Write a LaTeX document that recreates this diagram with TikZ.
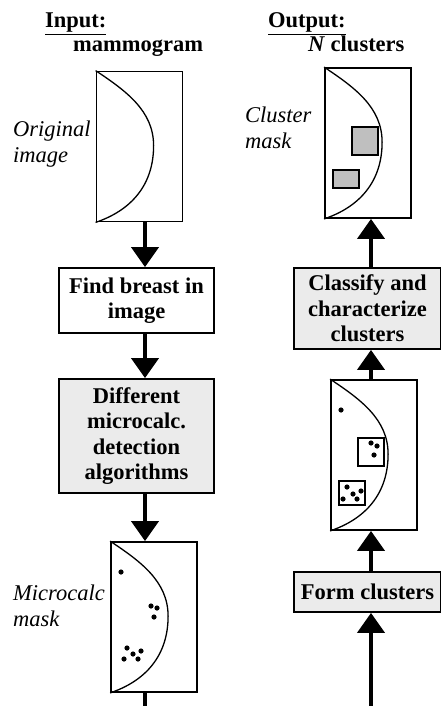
\documentclass[tikz,border=0pt]{standalone}
\usepackage{fontspec}
\setmainfont{Liberation Serif}
\usetikzlibrary{arrows.meta,calc}

\newcommand{\bigtype}{\fontsize{22.5}{25.5}\selectfont}

\tikzset{
  procbox/.style={draw, line width=1.8pt, align=center, font=\bigtype\bfseries,
    inner sep=0pt, minimum height=#1},
  shadebox/.style={procbox=#1, fill=black!8},
  maskimg/.style={draw, line width=1.8pt, inner sep=0pt,
    minimum width=86pt, minimum height=150pt},
  flow/.style={line width=4pt, -{Triangle[width=27pt,length=20pt]}},
  outline/.style={line width=1.3pt},
  cluster/.style={draw, line width=1.8pt, fill=black!25},
  capt/.style={align=left, font=\bigtype\itshape, inner sep=0pt, anchor=north west},
  heading/.style={anchor=base west, inner sep=0pt, font=\bigtype\bfseries},
}

% the outline of the breast inside one of the image boxes
\newcommand{\breastline}[1]{%
  \draw[outline] (#1.north west)
    .. controls ($(#1.north west)+(30,20)$) and ($(#1.north west)+(58,40)$)
    .. ($(#1.north west)+(58,75)$)
    .. controls ($(#1.north west)+(58,115)$) and ($(#1.north west)+(35,140)$)
    .. (#1.south west);}
\newcommand{\speck}[1]{\fill (#1) circle (2.6pt);}

\begin{document}
\begin{tikzpicture}[x=1pt, y=-1pt]
\useasboundingbox (0,0) rectangle (441,706);

%columns of the arrows
\coordinate (lcol) at (145,0);
\coordinate (rcol) at (371,0);

%Input side
\node[heading] (inhead) at (45,28) {\underline{Input:}};
\node[heading] (insub) at (73,51.5) {mammogram};

\node[maskimg] (orig) at (139.5,146.5) {};
\breastline{orig}
\node[capt] (origcap) at (13,121) {Original\\image};

\node[procbox=65pt, minimum width=155pt] (find) at (136.5,300.5) {Find breast in\\image};
\node[shadebox=114pt, minimum width=155pt] (detect) at (136.5,436) {Different\\microcalc.\\detection\\algorithms};

\node[maskimg] (mcmask) at (154,617) {};
\breastline{mcmask}
\node[capt] (mccap) at (13,585) {Microcalc\\mask};
\foreach \p in {{121,572},{151,606},{157,608},{154,617},{127,648},{141,651},{133,654},{124,659},{138,659}}
  {\speck{\p}}

\coordinate (lend) at (145,706);

\draw[flow] (orig.south -| lcol) -- (find.north -| lcol);
\draw[flow] (find.south -| lcol) -- (detect.north -| lcol);
\draw[flow] (detect.south -| lcol) -- (mcmask.north -| lcol);
\draw[line width=4pt] (mcmask.south -| lend) -- (lend);

%Output side
\node[heading] (outhead) at (268,28) {\underline{Output:}};
\node[heading] (outsub) at (308,51.5) {\textit{N} clusters};

\node[maskimg] (cmask) at (368,143) {};
\breastline{cmask}
\draw[cluster] (352,127) rectangle (378,155);
\draw[cluster] (333,170) rectangle (359,188);
\node[capt] (cmaskcap) at (245,107) {Cluster\\mask};

\node[shadebox=81pt, minimum width=147pt] (classify) at (367.5,308.5) {Classify and\\characterize\\clusters};

\node[maskimg] (groups) at (374,455) {};
\breastline{groups}
\speck{341,410}
\draw[line width=1.5pt] (358,438) rectangle (384,466);
\foreach \p in {{371,443},{377,446},{374,455}}
  {\speck{\p}}
\draw[line width=1.5pt] (339,481) rectangle (365,505);
\foreach \p in {{347,487},{361,491},{353,494},{343,499},{357,499}}
  {\speck{\p}}

\node[shadebox=40pt, minimum width=147pt] (form) at (367.5,592) {Form clusters};

\coordinate (rstart) at (371,706);

\draw[flow] (rstart) -- (form.south -| rstart);
\draw[flow] (form.north -| rcol) -- (groups.south -| rcol);
\draw[flow] (groups.north -| rcol) -- (classify.south -| rcol);
\draw[flow] (classify.north -| rcol) -- (cmask.south -| rcol);

\end{tikzpicture}
\end{document}
